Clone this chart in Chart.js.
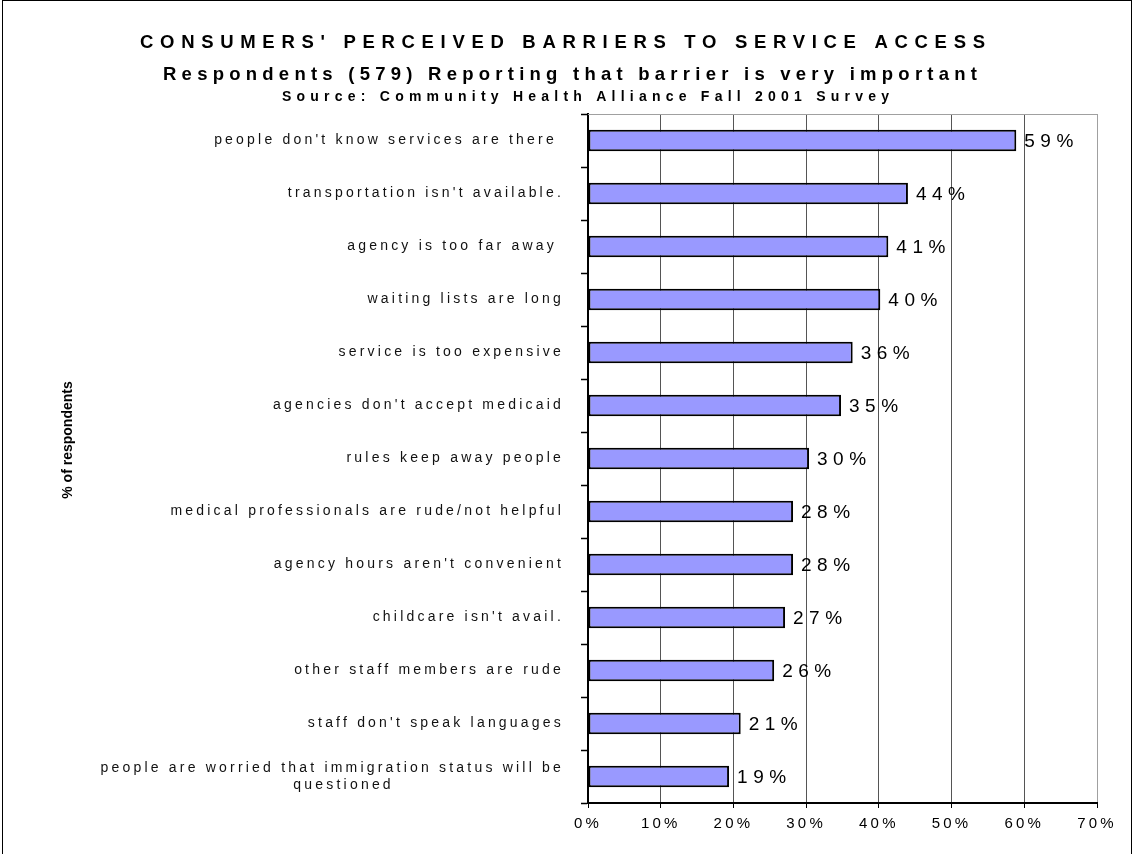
<!DOCTYPE html>
<html>
<head>
<meta charset="utf-8">
<script src="https://cdn.jsdelivr.net/npm/chart.js@4.4.1/dist/chart.umd.min.js"></script>
<style>
  html, body { margin: 0; padding: 0; background: #fff; }
  #wrap { position: relative; width: 1135px; height: 854px; overflow: hidden; }
  #frame { position: absolute; left: 2px; top: 0; width: 1130px; height: 900px; border: 1px solid #000; box-sizing: border-box; pointer-events: none; }
  canvas { position: absolute; left: 0; top: 0; }
</style>
</head>
<body>
<div id="wrap">
  <canvas id="chart" width="1135" height="854"></canvas>
  <div id="frame"></div>
</div>
<script>
// data block
const titleLines = [
  "CONSUMERS' PERCEIVED BARRIERS TO SERVICE ACCESS",
  'Respondents (579) Reporting that barrier is very important',
  'Source: Community Health Alliance Fall 2001 Survey',
];
const yTitle = '% of respondents';

const barriers = [
  "people don't know services are there ",
  "transportation isn't available.",
  'agency is too far away ',
  'waiting lists are long',
  'service is too expensive',
  "agencies don't accept medicaid",
  'rules keep away people',
  'medical professionals are rude/not helpful',
  "agency hours aren't convenient",
  "childcare isn't avail.",
  'other staff members are rude',
  "staff don't speak languages",
  ['people are worried that immigration status will be', 'questioned                        '],
];
const respondentShare = [58.9, 44.0, 41.3, 40.2, 36.4, 34.8, 30.4, 28.2, 28.2, 27.1, 25.6, 21.0, 19.4];

const axisMin = 0;
const axisMax = 70;
const axisStep = 10;

const FONT = "'Liberation Sans', Arial, sans-serif";

// draws text stretched by letter spacing so it fills a given width
function spacedText(ctx, text, x, y, font, width) {
  ctx.font = font;
  ctx.letterSpacing = '0px';
  const w = ctx.measureText(text).width;
  const sp = (width - w) / (text.length - 1);
  ctx.letterSpacing = sp + 'px';
  ctx.textAlign = 'left';
  ctx.textBaseline = 'alphabetic';
  ctx.fillText(text, x, y);
}

const decorPlugin = {
  id: 'decor',
  beforeDraw(chart) {
    chart.ctx.letterSpacing = '3.2px';
  },
  afterDatasetsDraw(chart) {
    const ctx = chart.ctx;
    const meta = chart.getDatasetMeta(0);
    ctx.save();
    ctx.font = '19px ' + FONT;
    ctx.letterSpacing = '5.5px';
    ctx.fillStyle = '#000';
    ctx.textAlign = 'left';
    ctx.textBaseline = 'middle';
    meta.data.forEach((bar, i) => {
      ctx.fillText(Math.round(respondentShare[i]) + '%', bar.x + 8, bar.y + 1);
    });
    ctx.restore();
  },
  afterDraw(chart) {
    const ctx = chart.ctx;
    const a = chart.chartArea;
    ctx.save();
    // top edge of plot area
    ctx.strokeStyle = '#a0a0a0';
    ctx.lineWidth = 1;
    ctx.beginPath();
    ctx.moveTo(a.left, a.top + 0.5);
    ctx.lineTo(a.right, a.top + 0.5);
    ctx.stroke();

    ctx.fillStyle = '#000';
    spacedText(ctx, titleLines[0], 140, 48, 'bold 18.5px ' + FONT, 845);
    spacedText(ctx, titleLines[1], 163, 80, 'bold 18.5px ' + FONT, 814);
    spacedText(ctx, titleLines[2], 282, 101, 'bold 14px ' + FONT, 607);

    ctx.letterSpacing = '0px';
    ctx.translate(68, 440);
    ctx.rotate(-Math.PI / 2);
    ctx.font = 'bold 14px ' + FONT;
    ctx.textAlign = 'center';
    ctx.textBaseline = 'middle';
    ctx.fillText(yTitle, 0, 0);
    ctx.restore();
    ctx.letterSpacing = '0px';
  },
};

const data = {
  labels: barriers,
  datasets: [
    {
      label: yTitle,
      data: respondentShare,
      backgroundColor: '#9999FF',
      borderColor: '#000',
      borderWidth: 2,
      borderSkipped: false,
      barPercentage: 0.41,
      categoryPercentage: 1,
    },
  ],
};

const config = {
  type: 'bar',
  data,
  options: {
    indexAxis: 'y',
    responsive: false,
    animation: false,
    layout: { padding: { left: 0, right: 38, top: 114, bottom: 20 } },
    plugins: {
      legend: { display: false },
      tooltip: { enabled: false },
    },
    scales: {
      x: {
        min: axisMin,
        max: axisMax,
        ticks: {
          stepSize: axisStep,
          callback: v => v + '%',
          color: '#000',
          font: { family: FONT, size: 15 },
          padding: 7,
        },
        grid: {
          color: c => (c.tick && c.tick.value === axisMax ? '#a0a0a0' : '#555'),
          lineWidth: 1,
          tickLength: 5,
          tickColor: '#000',
        },
        border: { color: '#000', width: 2 },
        afterFit: s => { s.height = 31; },
      },
      y: {
        ticks: {
          color: '#111',
          font: { family: FONT, size: 14 },
          padding: 17,
          autoSkip: false,
        },
        grid: {
          drawOnChartArea: false,
          drawTicks: true,
          tickLength: 7,
          tickWidth: 1.5,
          tickColor: '#000',
          offset: true,
        },
        border: { color: '#000', width: 2 },
        afterFit: s => { s.width = 588; },
      },
    },
  },
  plugins: [decorPlugin],
};

new Chart(document.getElementById('chart'), config);
</script>
</body>
</html>
